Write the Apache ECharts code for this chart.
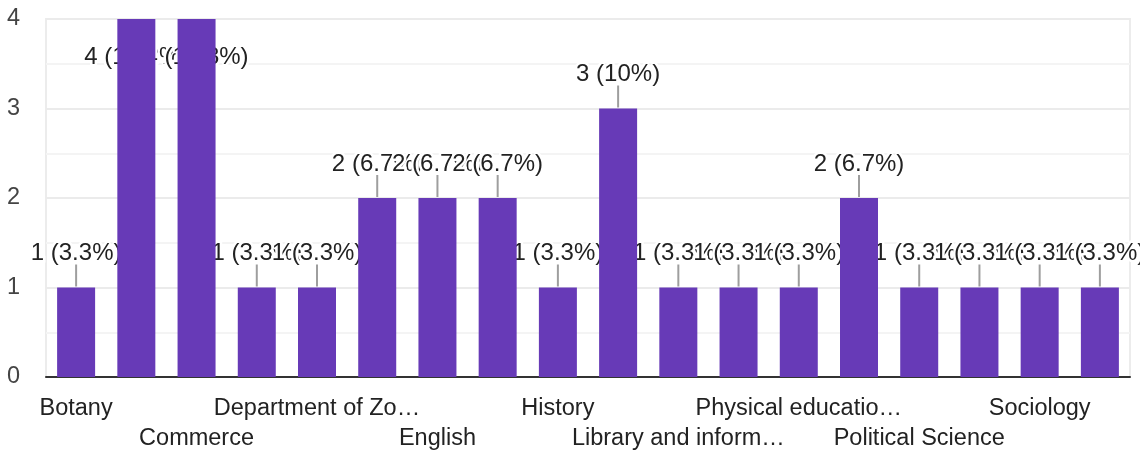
<!DOCTYPE html>
<html>
<head>
<meta charset="utf-8">
<script src="https://cdn.jsdelivr.net/npm/echarts@6/dist/echarts.min.js"></script>
<style>
  html, body { margin: 0; padding: 0; background: #fff; }
  #chart { width: 1140px; height: 452px; }
</style>
</head>
<body>
<div id="chart"></div>
<script>
// Categories (odd-indexed names are hidden in the reference; best guesses)
const categories = [
  'Botany', 'Chemistry', 'Commerce', 'Computer Science',
  'Department of Zoology', 'Economics', 'English', 'Geography',
  'History', 'Home Science', 'Library and information science', 'Mathematics',
  'Physical education and sports', 'Physics', 'Political Science', 'Psychology',
  'Sociology', 'Statistics'
];
const counts = [1, 4, 4, 1, 1, 2, 2, 2, 1, 3, 1, 1, 1, 2, 1, 1, 1, 1];
const yTicks = [0, 1, 2, 3, 4];

const total = counts.reduce((a, b) => a + b, 0);
const yMax = yTicks[yTicks.length - 1];
const FONT = '"Liberation Sans", Arial, sans-serif';

function pctLabel(v) {
  const p = parseFloat((v / total * 100).toFixed(1));
  return v + ' (' + p + '%)';
}

function xLabelStyle(rowIdx) {
  return {
    interval: function (index) { return index % 4 === rowIdx * 2; },
    margin: 17,
    fontFamily: FONT,
    fontSize: 23.5,
    lineHeight: 30,
    color: '#222222',
    width: 218,
    overflow: 'truncate',
    ellipsis: '…',
    verticalAlign: 'top'
  };
}

const chart = echarts.init(document.getElementById('chart'), null, { renderer: 'canvas' });

chart.setOption({
  animation: false,
  backgroundColor: '#ffffff',
  grid: {
    left: 46, right: 10, top: 19, bottom: 75,
    containLabel: false,
    outerBoundsMode: 'none',
    show: true, borderColor: '#ececec', borderWidth: 2, backgroundColor: 'transparent'
  },
  xAxis: [
    {
      type: 'category',
      data: categories,
      axisLine: { show: true, lineStyle: { color: '#333333', width: 2 } },
      axisTick: { show: false },
      axisLabel: xLabelStyle(0),
      splitLine: { show: false }
    },
    {
      type: 'category',
      data: categories,
      position: 'bottom',
      offset: 30,
      axisLine: { show: false },
      axisTick: { show: false },
      axisLabel: xLabelStyle(1),
      splitLine: { show: false }
    }
  ],
  yAxis: {
    type: 'value',
    min: yTicks[0],
    max: yMax,
    interval: 1,
    axisLine: { show: false },
    axisTick: { show: false },
    axisLabel: {
      margin: 26,
      fontFamily: FONT,
      fontSize: 23.5,
      color: '#444444',
      formatter: function (v) { return yTicks.indexOf(v) >= 0 ? String(v) : ''; }
    },
    splitLine: { show: true, lineStyle: { color: '#ebebeb', width: 2 } },
    minorTick: { show: false, splitNumber: 2 },
    minorSplitLine: { show: true, lineStyle: { color: '#f4f4f4', width: 2 } }
  },
  series: [
    {
      type: 'bar',
      xAxisIndex: 0,
      data: counts,
      barWidth: 38,
      itemStyle: { color: '#673ab7' },
      silent: true
    },
    {
      type: 'custom',
      xAxisIndex: 0,
      clip: false,
      silent: true,
      data: counts.map((v, i) => [i, v]),
      renderItem: function (params, api) {
        const i = api.value(0);
        const v = api.value(1);
        const pt = api.coord([i, v]);
        const x = pt[0], y = pt[1];
        const atTop = v >= yMax;
        const y1 = atTop ? y + 1 : y - 1;
        const y2 = atTop ? y + 23 : y - 23;
        const ty = atTop ? y + 38 : y - 34;
        return {
          type: 'group',
          children: [
            {
              type: 'line',
              shape: { x1: x, y1: y1, x2: x, y2: y2 },
              style: { stroke: '#9e9e9e', lineWidth: 2 }
            },
            {
              type: 'text',
              style: {
                text: pctLabel(v),
                x: x, y: ty,
                align: 'center', verticalAlign: 'middle',
                font: '24px ' + FONT,
                fill: '#222222',
                stroke: '#ffffff',
                lineWidth: 5
              }
            }
          ]
        };
      }
    }
  ]
});
</script>
</body>
</html>
